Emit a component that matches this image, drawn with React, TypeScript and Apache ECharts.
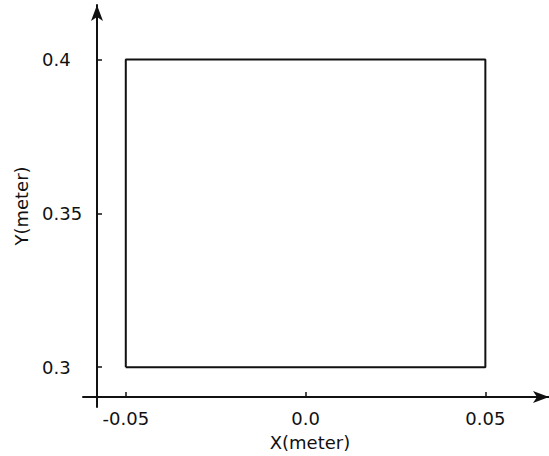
import React, { useEffect, useRef } from "react";
import * as echarts from "echarts";

// Path of the square (meters)
const pathX: number[] = [-0.05, -0.05, 0.05, 0.05, -0.05];
const pathY: number[] = [0.3, 0.4, 0.4, 0.3, 0.3];

// Tick values and labels
const xTicks: number[] = [-0.05, 0, 0.05];
const xTickLabels: string[] = ["-0.05", "0.0", "0.05"];
const yTicks: number[] = [0.3, 0.35, 0.4];
const yTickLabels: string[] = ["0.3", "0.35", "0.4"];

const xName = "X(meter)";
const yName = "Y(meter)";

const FONT = "DejaVu Sans";
const FS = 18;
const INK = "#111";

export default function App() {
  const ref = useRef<HTMLDivElement>(null);
  useEffect(() => {
    if (!ref.current) return;
    const chart = echarts.init(ref.current, undefined, { renderer: "svg" });
    const data = pathX.map((x, i) => [x, pathY[i]]);
    const labelFor = (ticks: number[], labels: string[]) => (v: number) => {
      let best = 0;
      let d = Infinity;
      ticks.forEach((t, i) => {
        if (Math.abs(t - v) < d) {
          d = Math.abs(t - v);
          best = i;
        }
      });
      return labels[best];
    };
    chart.setOption({
      animation: false,
      backgroundColor: "#fff",
      grid: { left: 83, right: 0, top: 5, bottom: 46 },
      xAxis: {
        type: "value",
        min: -0.0619,
        max: 0.0677,
        offset: -10,
        name: xName,
        nameLocation: "middle",
        nameGap: 36,
        nameTextStyle: {
          fontFamily: FONT,
          fontSize: FS,
          color: INK,
          padding: [0, 12, 0, 0],
        },
        axisLine: {
          show: true,
          onZero: false,
          symbol: ["none", "arrow"],
          symbolSize: [9, 16],
          lineStyle: { color: INK, width: 2 },
        },
        axisTick: {
          show: true,
          inside: true,
          length: 5,
          customValues: xTicks,
          lineStyle: { color: INK, width: 1.5 },
        },
        axisLabel: {
          show: true,
          margin: 12,
          customValues: xTicks,
          formatter: labelFor(xTicks, xTickLabels),
          fontFamily: FONT,
          fontSize: FS,
          color: INK,
        },
        splitLine: { show: false },
      },
      yAxis: {
        type: "value",
        min: 0.28706,
        max: 0.4177,
        offset: -14,
        name: yName,
        nameLocation: "middle",
        nameGap: 67,
        nameRotate: 90,
        nameTextStyle: { fontFamily: FONT, fontSize: FS, color: INK },
        axisLine: {
          show: true,
          onZero: false,
          symbol: ["none", "arrow"],
          symbolSize: [9, 16],
          lineStyle: { color: INK, width: 2 },
        },
        axisTick: {
          show: true,
          inside: true,
          length: 5,
          customValues: yTicks,
          lineStyle: { color: INK, width: 1.5 },
        },
        axisLabel: {
          show: true,
          margin: 55,
          align: "left",
          customValues: yTicks,
          formatter: labelFor(yTicks, yTickLabels),
          fontFamily: FONT,
          fontSize: FS,
          color: INK,
        },
        splitLine: { show: false },
      },
      series: [
        {
          type: "line",
          data,
          symbol: "none",
          lineStyle: { color: INK, width: 2 },
        },
      ],
    });
    return () => chart.dispose();
  }, []);
  return <div ref={ref} style={{ width: 549, height: 456, position: "absolute", left: 0, top: 0 }} />;
}
